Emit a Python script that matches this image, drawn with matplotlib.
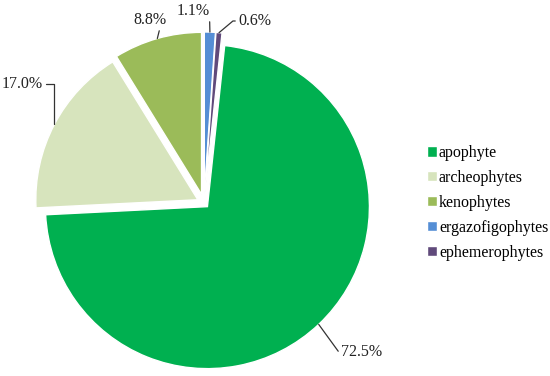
import matplotlib.pyplot as plt
import numpy as np

plt.rcParams['font.family'] = ['Liberation Serif', 'DejaVu Serif']

# Data
categories = ['apophyte', 'archeophytes', 'kenophytes', 'ergazofigophytes', 'ephemerophytes']
shares = [72.5, 17.0, 8.8, 1.1, 0.6]
colors = ['#00B050', '#D7E4BD', '#9BBB59', '#558ED5', '#604A7B']

# Layout (pixel units, y measured from the top of the image)
W, H = 550, 376
center_px = (204, 203)
radius = 162
explode = [5, 7, 9, 9, 9]   # offsets in pixels
# text position of each label (x, y from top), alignment, leader relpos, connection style
label_pos = [(341, 352), (43, 84), (150, 20), (193, 11), (238, 21)]
label_ha = ['left', 'right', 'center', 'center', 'left']
label_rel = [(0, 0.5), (1, 0.5), (0.8, 0), (1, 0.1), (0, 0.5)]
label_conn = ['angle,angleA=0,angleB=-54', 'angle,angleA=0,angleB=90',
              'arc3', 'arc3', 'angle,angleA=0,angleB=40']

fig = plt.figure(figsize=(W / 100, H / 100), dpi=100)
ax = fig.add_axes([0, 0, 1, 1])

start = 90 - (shares[3] + shares[4]) * 3.6
wedges, _ = ax.pie(shares, colors=colors, explode=explode, startangle=start,
                   counterclock=False, radius=radius,
                   center=(center_px[0], H - center_px[1]),
                   wedgeprops=dict(edgecolor='white', linewidth=1.0))
ax.set_xlim(0, W)
ax.set_ylim(0, H)
ax.set_aspect('equal')
ax.axis('off')

# percentage labels with leader lines
for w, val, pos, ha, rel, conn in zip(wedges, shares, label_pos, label_ha,
                                      label_rel, label_conn):
    mid = np.deg2rad((w.theta1 + w.theta2) / 2)
    anchor = (w.center[0] + w.r * np.cos(mid), w.center[1] + w.r * np.sin(mid))
    ax.annotate('{:.1f}%'.format(val), xy=anchor, xytext=(pos[0], H - pos[1]),
                ha=ha, va='center', fontsize=11.5, color='#222222',
                arrowprops=dict(arrowstyle='-', color='#333333', lw=0.9,
                                relpos=rel, connectionstyle=conn,
                                shrinkA=0, shrinkB=0))

ax.legend(wedges, categories, loc='center left',
          bbox_to_anchor=(427 / W, 1 - 203 / H), frameon=False,
          fontsize=11.5, handlelength=0.6, handleheight=0.6,
          handletextpad=0.15, labelspacing=0.56, borderpad=0,
          borderaxespad=0)

fig.savefig('out.png', dpi=100)
